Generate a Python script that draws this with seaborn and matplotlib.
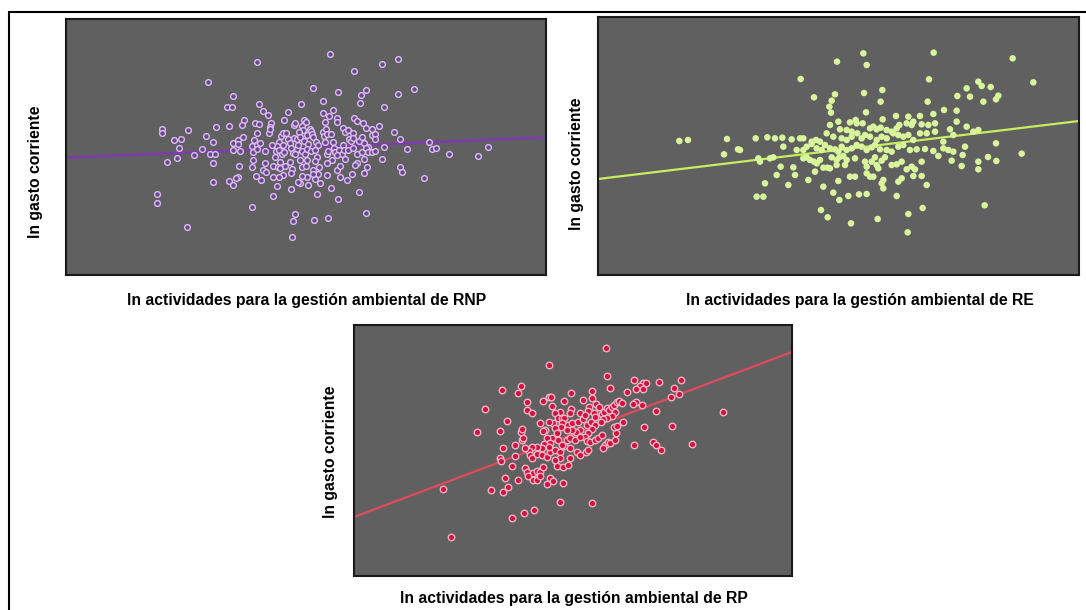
import numpy as np
import pandas as pd
import matplotlib
matplotlib.use("Agg")
import matplotlib.pyplot as plt
import seaborn as sns

# ---------------- data (arbitrary log units) ----------------
rnp_xy = np.array([
    (427,578),(742,560),(817,548),(500,538),(885,541),(900,554),(995,543),(1045,557),
    (482,504),(498,504),(580,513),(705,512),(770,522),(882,517),(955,505),
    (592,493),(605,479),(666,490),(770,487),(800,496),(790,477),(813,470),(814,458),
    (864,472),(872,461),(533,465),(529,451),(490,447),(450,443),(568,457),(580,453),
    (615,455),(611,443),(653,464),(685,450),(687,457),(715,465),(720,458),(709,447),
    (711,435),(733,438),(778,458),(891,457),(938,448),(919,437),(985,430),(420,418),
    (442,398),(502,395),(517,405),(516,393),(532,413),(572,425),(564,405),(557,388),
    (574,389),(582,395),(610,427),(612,438),(644,417),(651,425),(659,427),(640,400),
    (634,388),(617,390),(652,390),(666,407),(673,397),(684,412),(694,408),(699,430),
    (702,415),(713,402),(722,420),(734,432),(737,423),(742,414),(750,400),(755,390),
    (727,394),(772,430),(779,437),(775,417),(777,400),(784,423),(795,424),(800,399),
    (803,380),(831,440),(838,430),(847,434),(860,427),(848,407),(855,402),(862,412),
    (830,390),(880,403),(887,415),(894,397),(899,440),(917,420),(926,424),(928,408),
    (905,385),(955,385),(1002,407),(1022,377),(409,377),(432,363),(447,363),(442,337),
    (502,375),(522,372),(560,370),(562,345),(559,323),(518,327),(574,377),(597,372),
    (630,372),(640,375),(647,363),(655,370),(674,380),(681,365),(692,377),(707,372),
    (695,390),(717,363),(723,378),(734,372),(747,375),(754,355),(747,341),(724,345),
    (702,345),(688,363),(672,340),(642,340),(628,355),(622,328),(596,337),(590,315),
    (635,323),(642,321),(657,328),(678,317),(707,323),(720,327),(742,315),(759,325),
    (782,363),(787,372),(807,370),(820,375),(827,363),(835,375),(847,375),(862,380),
    (872,363),(887,370),(899,380),(907,370),(917,370),(927,373),(947,349),(895,347),
    (872,335),(838,347),(814,360),(797,345),(782,335),(812,315),(822,327),(867,330),
    (902,323),(895,305),(857,302),(842,285),(822,295),(782,301),(757,303),(747,289),
    (742,302),(724,293),(707,298),(702,275),(695,280),(674,305),(652,300),(640,293),
    (620,295),(600,310),(584,285),(570,298),(517,295),(510,290),(489,283),(502,270),
    (440,280),(634,267),(622,237),(675,258),(727,270),(762,275),(752,243),(795,260),
    (817,228),(879,250),(1002,325),(1009,308),(559,203),(686,183),(680,163),(745,165),
    (787,170),(899,187),(677,113),
    (572,638),(287,437),(287,427),(365,435),(324,405),(344,408),(339,382),(302,339),
    (334,352),(385,359),(272,243),(272,215),(364,145),
    (792,664),(947,634),(995,649),(864,612),(1089,400),(1097,377),(1110,380),
    (1148,364),(1237,358),(1266,384),(1075,290),
])
rnp_fit_x = [0, 1440]
rnp_fit_y = [352, 413]

re_xy = np.array([
    (608,588),(993,587),(853,555),(1141,580),(648,533),(711,542),(798,546),(701,523),
    (848,520),(989,520),(1078,537),(1116,535),(1106,560),(694,505),(699,487),(804,488),
    (894,477),(931,475),(966,477),(1006,483),(1038,495),(1076,493),(854,467),(721,460),
    (756,458),(773,465),(776,455),(794,455),(816,440),(826,445),(836,437),(848,442),
    (866,435),(881,430),(896,440),(904,450),(926,455),(946,460),(941,450),(971,452),
    (991,450),(1011,455),(1056,437),(1106,445),(1076,460),(696,450),(726,437),(746,435),
    (761,430),(473,410),(508,413),(531,410),(553,412),(581,407),(606,410),(616,410),
    (654,405),(641,400),(666,400),(686,425),(706,415),(731,410),(746,405),(761,415),
    (778,425),(791,410),(801,420),(816,415),(836,405),(851,415),(866,410),(886,425),
    (901,420),(916,415),(931,420),(946,405),(966,425),(986,425),(1011,430),(1036,400),
    (1066,420),(1126,430),(1141,435),(556,385),(596,375),(616,375),(626,385),(641,393),
    (656,380),(671,375),(681,390),(696,380),(711,377),(721,370),(731,385),(746,375),
    (761,380),(776,390),(791,385),(806,375),(821,383),(831,390),(846,377),(866,375),
    (881,370),(901,385),(916,390),(936,375),(956,377),(981,378),(1006,372),(1036,380),
    (1051,375),(1066,370),(1101,385),(426,375),(481,350),(486,340),(516,350),(526,353),
    (616,350),(626,353),(636,345),(648,340),(666,345),(701,353),(716,345),(724,353),
    (736,357),(746,345),(771,350),(801,340),(821,340),(831,353),(851,343),(861,353),
    (881,330),(896,332),(911,340),(926,317),(941,325),(951,317),(971,340),(1021,357),
    (1061,343),(1094,360),(1091,327),(1141,340),(548,325),(586,323),(656,335),(676,322),
    (688,322),(696,320),(716,330),(741,330),(806,325),(836,330),(841,320),(536,300),
    (591,300),(501,275),(571,270),(631,285),(651,310),(721,282),(756,295),(771,295),
    (806,305),(816,295),(826,295),(856,285),(851,275),(901,280),(911,290),(946,297),
    (971,297),(1141,317),(476,235),(496,235),(676,265),(706,247),(724,225),(751,237),
    (783,242),(806,243),(856,260),(896,237),(986,270),(669,195),(689,173),(759,155),
    (839,168),(931,183),(974,201),(929,128),
    (244,402),(270,405),(387,408),(378,362),(420,377),(717,640),
    (796,665),(1007,667),(806,630),(1244,650),(1151,567),(1178,564),(1306,578),
    (1201,538),(1194,527),(1156,520),(1194,395),(1271,364),(1170,354),(1195,342),
    (1160,209),
])
re_fit_x = [0, 1443]
re_fit_y = [288, 462]

rp_xy = np.array([
    (756,683),(585,632),(760,601),(767,565),(445,558),(501,570),(491,550),(650,550),
    (714,555),(714,533),(820,551),(840,588),(866,578),(876,578),(858,570),(846,560),
    (866,561),(914,583),(980,587),(959,563),(951,538),(976,545),(392,501),(520,523),
    (520,498),(533,488),(568,525),(585,536),(591,536),(593,511),(629,525),(688,528),
    (704,508),(703,495),(726,515),(736,508),(720,490),(678,488),(651,501),(648,488),
    (618,493),(603,490),(598,458),(585,463),(558,458),(573,438),(566,436),(613,473),
    (623,473),(631,475),(623,460),(641,453),(653,458),(671,461),(688,471),(693,483),
    (698,453),(710,461),(723,476),(743,485),(750,493),(758,503),(766,498),(773,508),
    (780,513),(788,523),(796,526),(803,520),(783,493),(773,480),(758,475),(748,471),
    (740,463),(723,453),(713,440),(703,428),(693,418),(678,438),(666,433),(653,438),
    (638,438),(621,446),(603,443),(608,428),(593,413),(580,415),(588,398),(570,396),
    (563,383),(548,388),(533,386),(526,376),(513,383),(503,408),(508,413),(500,433),
    (503,440),(458,465),(438,435),(448,383),(483,393),(528,363),(533,353),(548,366),
    (563,363),(578,358),(588,373),(603,378),(618,373),(631,390),(638,408),(648,415),
    (663,408),(678,418),(698,405),(708,403),(723,408),(733,415),(743,423),(753,393),
    (761,401),(768,398),(748,383),(783,408),(785,428),(781,446),(788,450),(806,461),
    (845,523),(863,513),(838,516),(871,446),(905,495),(954,451),(841,393),(896,401),
    (905,393),(920,378),(1015,395),(475,330),(438,355),(440,346),(483,360),(513,323),
    (518,313),(538,310),(548,316),(558,313),(523,300),(538,288),(548,288),(558,300),
    (568,328),(578,276),(588,293),(598,285),(610,330),(628,328),(643,332),(648,353),
    (618,353),(603,348),(668,373),(678,363),(695,373),(703,378),(626,280),(453,295),
    (493,288),(463,266),(448,251),(410,258),(618,223),(713,220),(541,198),(511,188),
    (475,175),(368,431),(648,383),(613,408),(623,393),(586,388),
    (268,260),(290,117),(1108,492),
])
rp_fit_x = [0, 1314]
rp_fit_y = [177, 672]

xlabels = ["ln actividades para la gestión ambiental de RNP",
           "ln actividades para la gestión ambiental de RE",
           "ln actividades para la gestión ambiental de RP"]
ylabel = "ln gasto corriente"

# ---------------- style ----------------
sns.set_style("white")
plt.rcParams["font.family"] = ["Liberation Sans", "DejaVu Sans"]

W, H = 1086, 610
fig = plt.figure(figsize=(W / 100, H / 100), dpi=100)
fig.patch.set_facecolor("white")

def px_axes(l, t, r, b):
    return fig.add_axes([l / W, 1 - b / H, (r - l) / W, (b - t) / H])

panels = [
    dict(box=(66, 19, 546, 275), xy=rnp_xy, fx=rnp_fit_x, fy=rnp_fit_y,
         xlim=(0, 1440), ylim=(0, 768),
         mk=dict(s=17, color="#6a4a86", edgecolor="#dcbcf5", linewidth=1.0),
         line="#7d3ca8", lw=2.0,
         xl=(307, 300), yl=(36, 172)),
    dict(box=(598, 17, 1079, 275), xy=re_xy, fx=re_fit_x, fy=re_fit_y,
         xlim=(0, 1443), ylim=(0, 774),
         mk=dict(s=22, color="#d9f59c", edgecolor="none", linewidth=0),
         line="#c6ef5e", lw=1.6,
         xl=(860, 300), yl=(576, 164)),
    dict(box=(354, 325, 792, 576), xy=rp_xy, fx=rp_fit_x, fy=rp_fit_y,
         xlim=(0, 1314), ylim=(0, 753),
         mk=dict(s=22, color="#d3123f", edgecolor="#f0b4c4", linewidth=1.0),
         line="#e04b5c", lw=1.6,
         xl=(574, 598), yl=(330, 452)),
]

for p in panels:
    ax = px_axes(*p["box"])
    ax.set_facecolor("#606060")
    df = pd.DataFrame({"x": p["xy"][:, 0], "y": p["xy"][:, 1]})
    sns.lineplot(x=p["fx"], y=p["fy"], ax=ax, color=p["line"], lw=p["lw"], zorder=2)
    sns.scatterplot(data=df, x="x", y="y", ax=ax, zorder=3, **p["mk"])
    ax.set_xlim(*p["xlim"])
    ax.set_ylim(*p["ylim"])
    ax.set_xticks([])
    ax.set_yticks([])
    ax.set_xlabel("")
    ax.set_ylabel("")
    for sp in ax.spines.values():
        sp.set_visible(True)
        sp.set_color("#1a1a1a")
        sp.set_linewidth(1.5)

for p, lab in zip(panels, xlabels):
    fig.text(p["xl"][0] / W, 1 - p["xl"][1] / H, lab, ha="center", va="center",
             fontsize=11.3, fontweight="bold", color="black")
    fig.text(p["yl"][0] / W, 1 - p["yl"][1] / H, ylabel, ha="center", va="center",
             rotation=90, fontsize=11.3, fontweight="bold", color="black")

# outer frame (left and top edges visible in the reference)
fig.add_artist(plt.Line2D([9 / W, 9 / W], [0, 1 - 12 / H], color="black", lw=1.5,
                          transform=fig.transFigure))
fig.add_artist(plt.Line2D([9 / W, 1], [1 - 12 / H, 1 - 12 / H], color="black", lw=1.5,
                          transform=fig.transFigure))

fig.savefig("out.png", dpi=100, facecolor="white")
